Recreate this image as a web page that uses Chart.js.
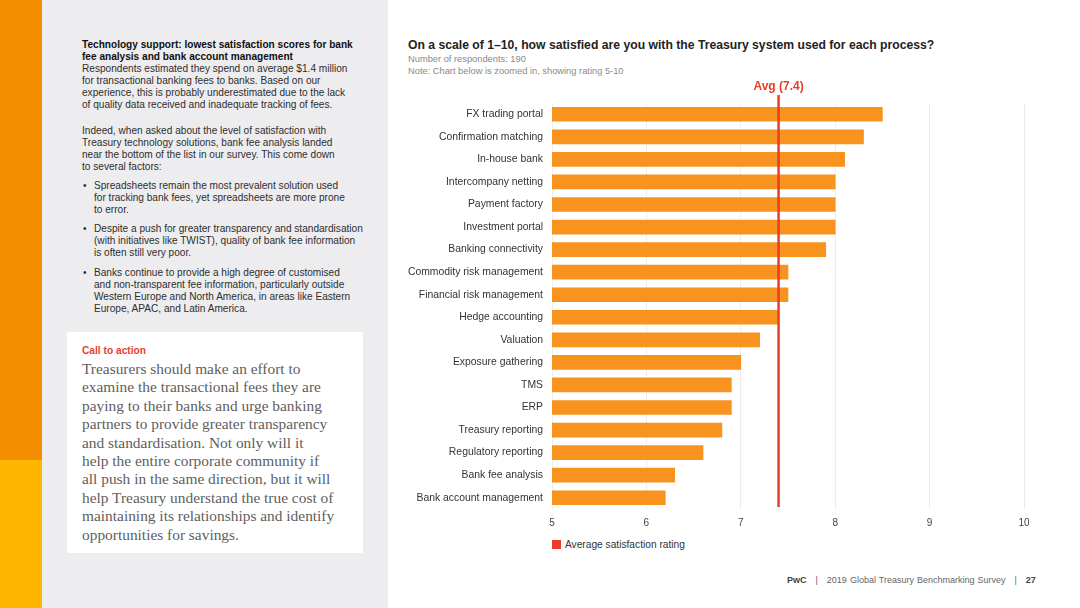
<!DOCTYPE html>
<html>
<head>
<meta charset="utf-8">
<script src="https://cdn.jsdelivr.net/npm/chart.js@4.4.1/dist/chart.umd.min.js"></script>
<style>
    body { margin: 0; width: 1080px; height: 608px; position: relative; background: #fff; font-family: "Liberation Sans", Arial, sans-serif; overflow: hidden; }
    .stripe-top { position: absolute; left: 0; top: 0; width: 42px; height: 460px; background: #F28E00; }
    .stripe-bottom { position: absolute; left: 0; top: 460px; width: 42px; height: 148px; background: #FFB600; }
    .panel { position: absolute; left: 42px; top: 0; width: 346px; height: 608px; background: #EDEDEF; }
    .copy { position: absolute; left: 82px; top: 39px; font-size: 10.1px; line-height: 12.1px; color: #2d2d2d; white-space: nowrap; }
    .copy b { color: #111; }
    .copy p { margin: 0 0 13px 0; }
    .copy ul { margin: 0; padding: 0; list-style: none; }
    .copy li { position: relative; padding-left: 12px; margin-bottom: 7px; }
    .copy li:before { content: "\2022"; position: absolute; left: 1px; top: 0; }
    .cta { position: absolute; left: 67px; top: 332px; width: 296px; height: 221px; background: #fff; }
    .cta h4 { margin: 0; position: absolute; left: 15px; top: 13px; font-size: 10.2px; color: #E8402A; font-weight: bold; }
    .cta div { position: absolute; left: 15px; top: 28px; font-family: "Liberation Serif", "Times New Roman", serif; font-size: 15.4px; line-height: 18.4px; color: #5e5e5e; white-space: nowrap; }
    .title { position: absolute; left: 408px; top: 38px; font-size: 12.2px; font-weight: bold; color: #222; white-space: nowrap; }
    .sub { position: absolute; left: 408px; font-size: 9.3px; color: #8a8a8a; white-space: nowrap; }
    #chartWrap { position: absolute; left: 400px; top: 75px; width: 640px; height: 462px; }
    .legend { position: absolute; left: 552px; top: 539px; font-size: 10.2px; color: #333; white-space: nowrap; }
    .legend span { display: inline-block; width: 9px; height: 9px; background: #EB3C27; margin-right: 4px; vertical-align: -1px; }
    .footer { position: absolute; left: 787px; top: 575px; font-size: 9px; color: #666; white-space: nowrap; word-spacing: 0.5px; }
    .footer b { color: #444; }
</style>
</head>
<body>
<div class="stripe-top"></div>
<div class="stripe-bottom"></div>
<div class="panel"></div>

<div class="copy">
    <p><b>Technology support: lowest satisfaction scores for bank<br>fee analysis and bank account management</b><br>
    Respondents estimated they spend on average $1.4 million<br>
    for transactional banking fees to banks. Based on our<br>
    experience, this is probably underestimated due to the lack<br>
    of quality data received and inadequate tracking of fees.</p>
    <p style="margin-bottom:7px">Indeed, when asked about the level of satisfaction with<br>
    Treasury technology solutions, bank fee analysis landed<br>
    near the bottom of the list in our survey. This come down<br>
    to several factors:</p>
    <ul>
        <li>Spreadsheets remain the most prevalent solution used<br>for tracking bank fees, yet spreadsheets are more prone<br>to error.</li>
        <li>Despite a push for greater transparency and standardisation<br>(with initiatives like TWIST), quality of bank fee information<br>is often still very poor.</li>
        <li>Banks continue to provide a high degree of customised<br>and non-transparent fee information, particularly outside<br>Western Europe and North America, in areas like Eastern<br>Europe, APAC, and Latin America.</li>
    </ul>
</div>

<div class="cta">
    <h4>Call to action</h4>
    <div>Treasurers should make an effort to<br>
    examine the transactional fees they are<br>
    paying to their banks and urge banking<br>
    partners to provide greater transparency<br>
    and standardisation. Not only will it<br>
    help the entire corporate community if<br>
    all push in the same direction, but it will<br>
    help Treasury understand the true cost of<br>
    maintaining its relationships and identify<br>
    opportunities for savings.</div>
</div>

<div class="title">On a scale of 1–10, how satisfied are you with the Treasury system used for each process?</div>
<div class="sub" style="top:54px">Number of respondents: 190</div>
<div class="sub" style="top:66px">Note: Chart below is zoomed in, showing rating 5-10</div>

<div id="chartWrap"><canvas id="satChart"></canvas></div>
<div class="legend"><span></span>Average satisfaction rating</div>
<div class="footer"><b>PwC</b> &nbsp;&nbsp;|&nbsp;&nbsp; 2019 Global Treasury Benchmarking Survey &nbsp;&nbsp;|&nbsp;&nbsp; <b>27</b></div>

<script>
// Chart data
const processes = [
    'FX trading portal', 'Confirmation matching', 'In-house bank', 'Intercompany netting',
    'Payment factory', 'Investment portal', 'Banking connectivity', 'Commodity risk management',
    'Financial risk management', 'Hedge accounting', 'Valuation', 'Exposure gathering',
    'TMS', 'ERP', 'Treasury reporting', 'Regulatory reporting', 'Bank fee analysis',
    'Bank account management'
];
const ratings = [8.5, 8.3, 8.1, 8.0, 8.0, 8.0, 7.9, 7.5, 7.5, 7.4, 7.2, 7.0, 6.9, 6.9, 6.8, 6.6, 6.3, 6.2];
const averageRating = 7.4;
const xTicks = [5, 6, 7, 8, 9, 10];

// draws the red average line and its label
const avgLinePlugin = {
    id: 'avgLine',
    afterDatasetsDraw(chart) {
        const { ctx, chartArea, scales } = chart;
        const x = scales.x.getPixelForValue(averageRating);
        ctx.save();
        ctx.strokeStyle = '#EB3C27';
        ctx.lineWidth = 2.5;
        ctx.beginPath();
        ctx.moveTo(x, chartArea.top - 8);
        ctx.lineTo(x, chartArea.bottom - 2);
        ctx.stroke();
        ctx.fillStyle = '#EB3C27';
        ctx.font = 'bold 12px "Liberation Sans", Arial, sans-serif';
        ctx.textAlign = 'center';
        ctx.textBaseline = 'bottom';
        ctx.fillText('Avg (' + averageRating + ')', x, chartArea.top - 10);
        ctx.restore();
    }
};

const ctx = document.getElementById('satChart').getContext('2d');
new Chart(ctx, {
    type: 'bar',
    data: {
        labels: processes,
        datasets: [{
            label: 'Average satisfaction rating',
            data: ratings,
            backgroundColor: '#F7931E',
            borderWidth: 0,
            barThickness: 14
        }]
    },
    options: {
        indexAxis: 'y',
        responsive: true,
        maintainAspectRatio: false,
        animation: false,
        layout: { padding: { top: 28, right: 16, bottom: 0, left: 0 } },
        plugins: {
            legend: { display: false },
            tooltip: { enabled: false }
        },
        scales: {
            x: {
                min: 5,
                max: 10,
                afterBuildTicks: axis => { axis.ticks = xTicks.map(v => ({ value: v })); },
                grid: { color: '#EDEDED', drawTicks: false },
                border: { display: false },
                ticks: {
                    padding: 8,
                    color: '#444',
                    font: { size: 10, family: '"Liberation Sans", Arial, sans-serif' }
                }
            },
            y: {
                afterFit: axis => { axis.width = 152; },
                grid: { display: false, drawTicks: false },
                border: { display: false },
                ticks: {
                    padding: 9,
                    color: '#333',
                    autoSkip: false,
                    font: { size: 10.4, family: '"Liberation Sans", Arial, sans-serif' }
                }
            }
        }
    },
    plugins: [avgLinePlugin]
});
</script>
</body>
</html>
